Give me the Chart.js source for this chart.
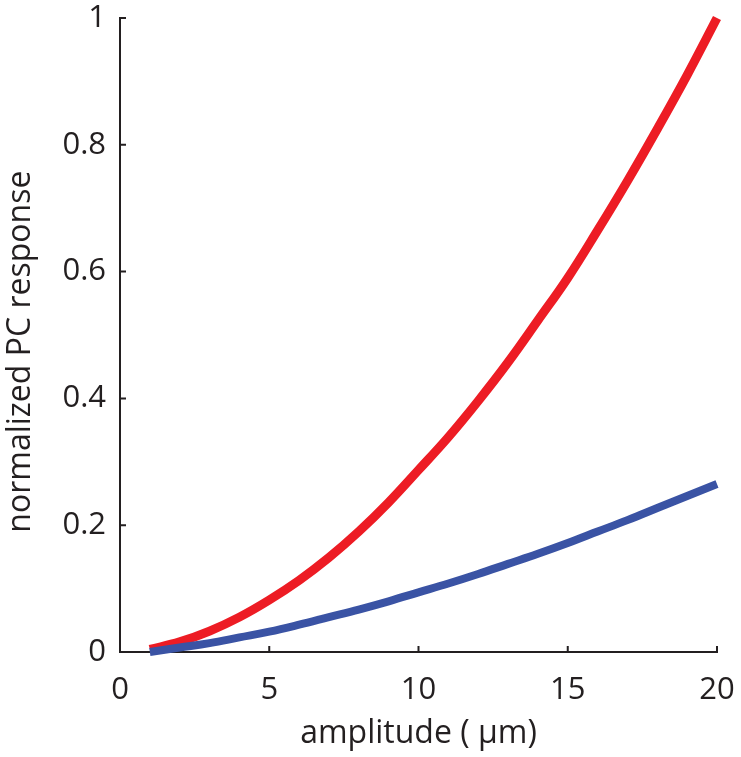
<!DOCTYPE html>
<html>
<head>
<meta charset="utf-8">
<script src="https://cdn.jsdelivr.net/npm/chart.js@4"></script>
<style>
  html, body { margin: 0; padding: 0; background: #fff; }
  #wrap { width: 741px; height: 757px; }
</style>
</head>
<body>
<div id="wrap"><canvas id="chartPC"></canvas></div>
<script>
// amplitude in µm
const amplitude = [1, 2, 3, 4, 5, 6, 7, 8, 9, 10, 11, 12, 13, 14, 15, 16, 17, 18, 19, 20];
const redResponse = [0.004, 0.016, 0.033, 0.055, 0.082, 0.113, 0.149, 0.19, 0.236, 0.287, 0.339, 0.396, 0.457, 0.523, 0.59, 0.665, 0.743, 0.825, 0.91, 1.0];
const blueResponse = [0.0, 0.007, 0.014, 0.023, 0.032, 0.043, 0.055, 0.067, 0.08, 0.094, 0.108, 0.123, 0.139, 0.155, 0.172, 0.19, 0.208, 0.227, 0.246, 0.265];
const xTicks = [0, 5, 10, 15, 20];
const yTicks = [0, 0.2, 0.4, 0.6, 0.8, 1];

const ink = "#231f20";
const fontFam = "'Open Sans', 'Noto Sans', sans-serif";

function pts(ys) {
    return amplitude.map((x, i) => ({ x: x, y: ys[i] }));
}

// ticks pointing into the plot, like the original figure
const inwardTicks = {
    id: 'inwardTicks',
    afterDraw(chart) {
        const c = chart.ctx;
        const xs = chart.scales.x, ys = chart.scales.y;
        const len = 6;
        c.save();
        c.strokeStyle = ink;
        c.lineWidth = 2;
        c.beginPath();
        xTicks.forEach(v => {
            const px = xs.getPixelForValue(v);
            c.moveTo(px, ys.bottom);
            c.lineTo(px, ys.bottom - len);
        });
        yTicks.forEach(v => {
            const py = ys.getPixelForValue(v);
            c.moveTo(xs.left, py);
            c.lineTo(xs.left + len, py);
        });
        c.stroke();
        c.restore();
    }
};

new Chart(document.getElementById('chartPC'), {
    type: 'line',
    data: {
        datasets: [
            {
                data: pts(blueResponse),
                borderColor: "#3a53a4",
                borderWidth: 8,
                pointRadius: 0,
                tension: 0.4,
                clip: false
            },
            {
                data: pts(redResponse),
                borderColor: "#ed1c24",
                borderWidth: 9,
                pointRadius: 0,
                tension: 0.4,
                clip: false
            }
        ]
    },
    options: {
        responsive: true,
        maintainAspectRatio: false,
        animation: false,
        layout: { padding: { left: 0, top: 0, right: 0, bottom: 0 } },
        plugins: {
            legend: { display: false },
            tooltip: { enabled: false }
        },
        scales: {
            x: {
                type: 'linear',
                min: 0,
                max: 20,
                afterBuildTicks: s => { s.ticks = xTicks.map(v => ({ value: v })); },
                afterFit: s => { s.height = 105; s.paddingRight = 24; },
                grid: { display: false, drawTicks: false },
                border: { display: true, color: ink, width: 2 },
                ticks: {
                    color: ink,
                    padding: 20,
                    font: { family: fontFam, size: 31 }
                },
                title: {
                    display: true,
                    text: "amplitude ( μm)",
                    color: ink,
                    padding: { top: 2, bottom: 4 },
                    font: { family: fontFam, size: 32 }
                }
            },
            y: {
                min: 0,
                max: 1,
                afterBuildTicks: s => { s.ticks = yTicks.map(v => ({ value: v })); },
                afterFit: s => { s.width = 120; s.paddingTop = 18; },
                grid: { display: false, drawTicks: false },
                border: { display: true, color: ink, width: 2 },
                ticks: {
                    color: ink,
                    padding: 14,
                    font: { family: fontFam, size: 31 },
                    callback: v => String(v)
                },
                title: {
                    display: true,
                    // trailing spaces nudge the label a bit lower, as in the original
                    text: "normalized PC response    ",
                    color: ink,
                    padding: { top: 2, bottom: 0 },
                    font: { family: fontFam, size: 32 }
                }
            }
        }
    },
    plugins: [inwardTicks]
});
</script>
</body>
</html>
